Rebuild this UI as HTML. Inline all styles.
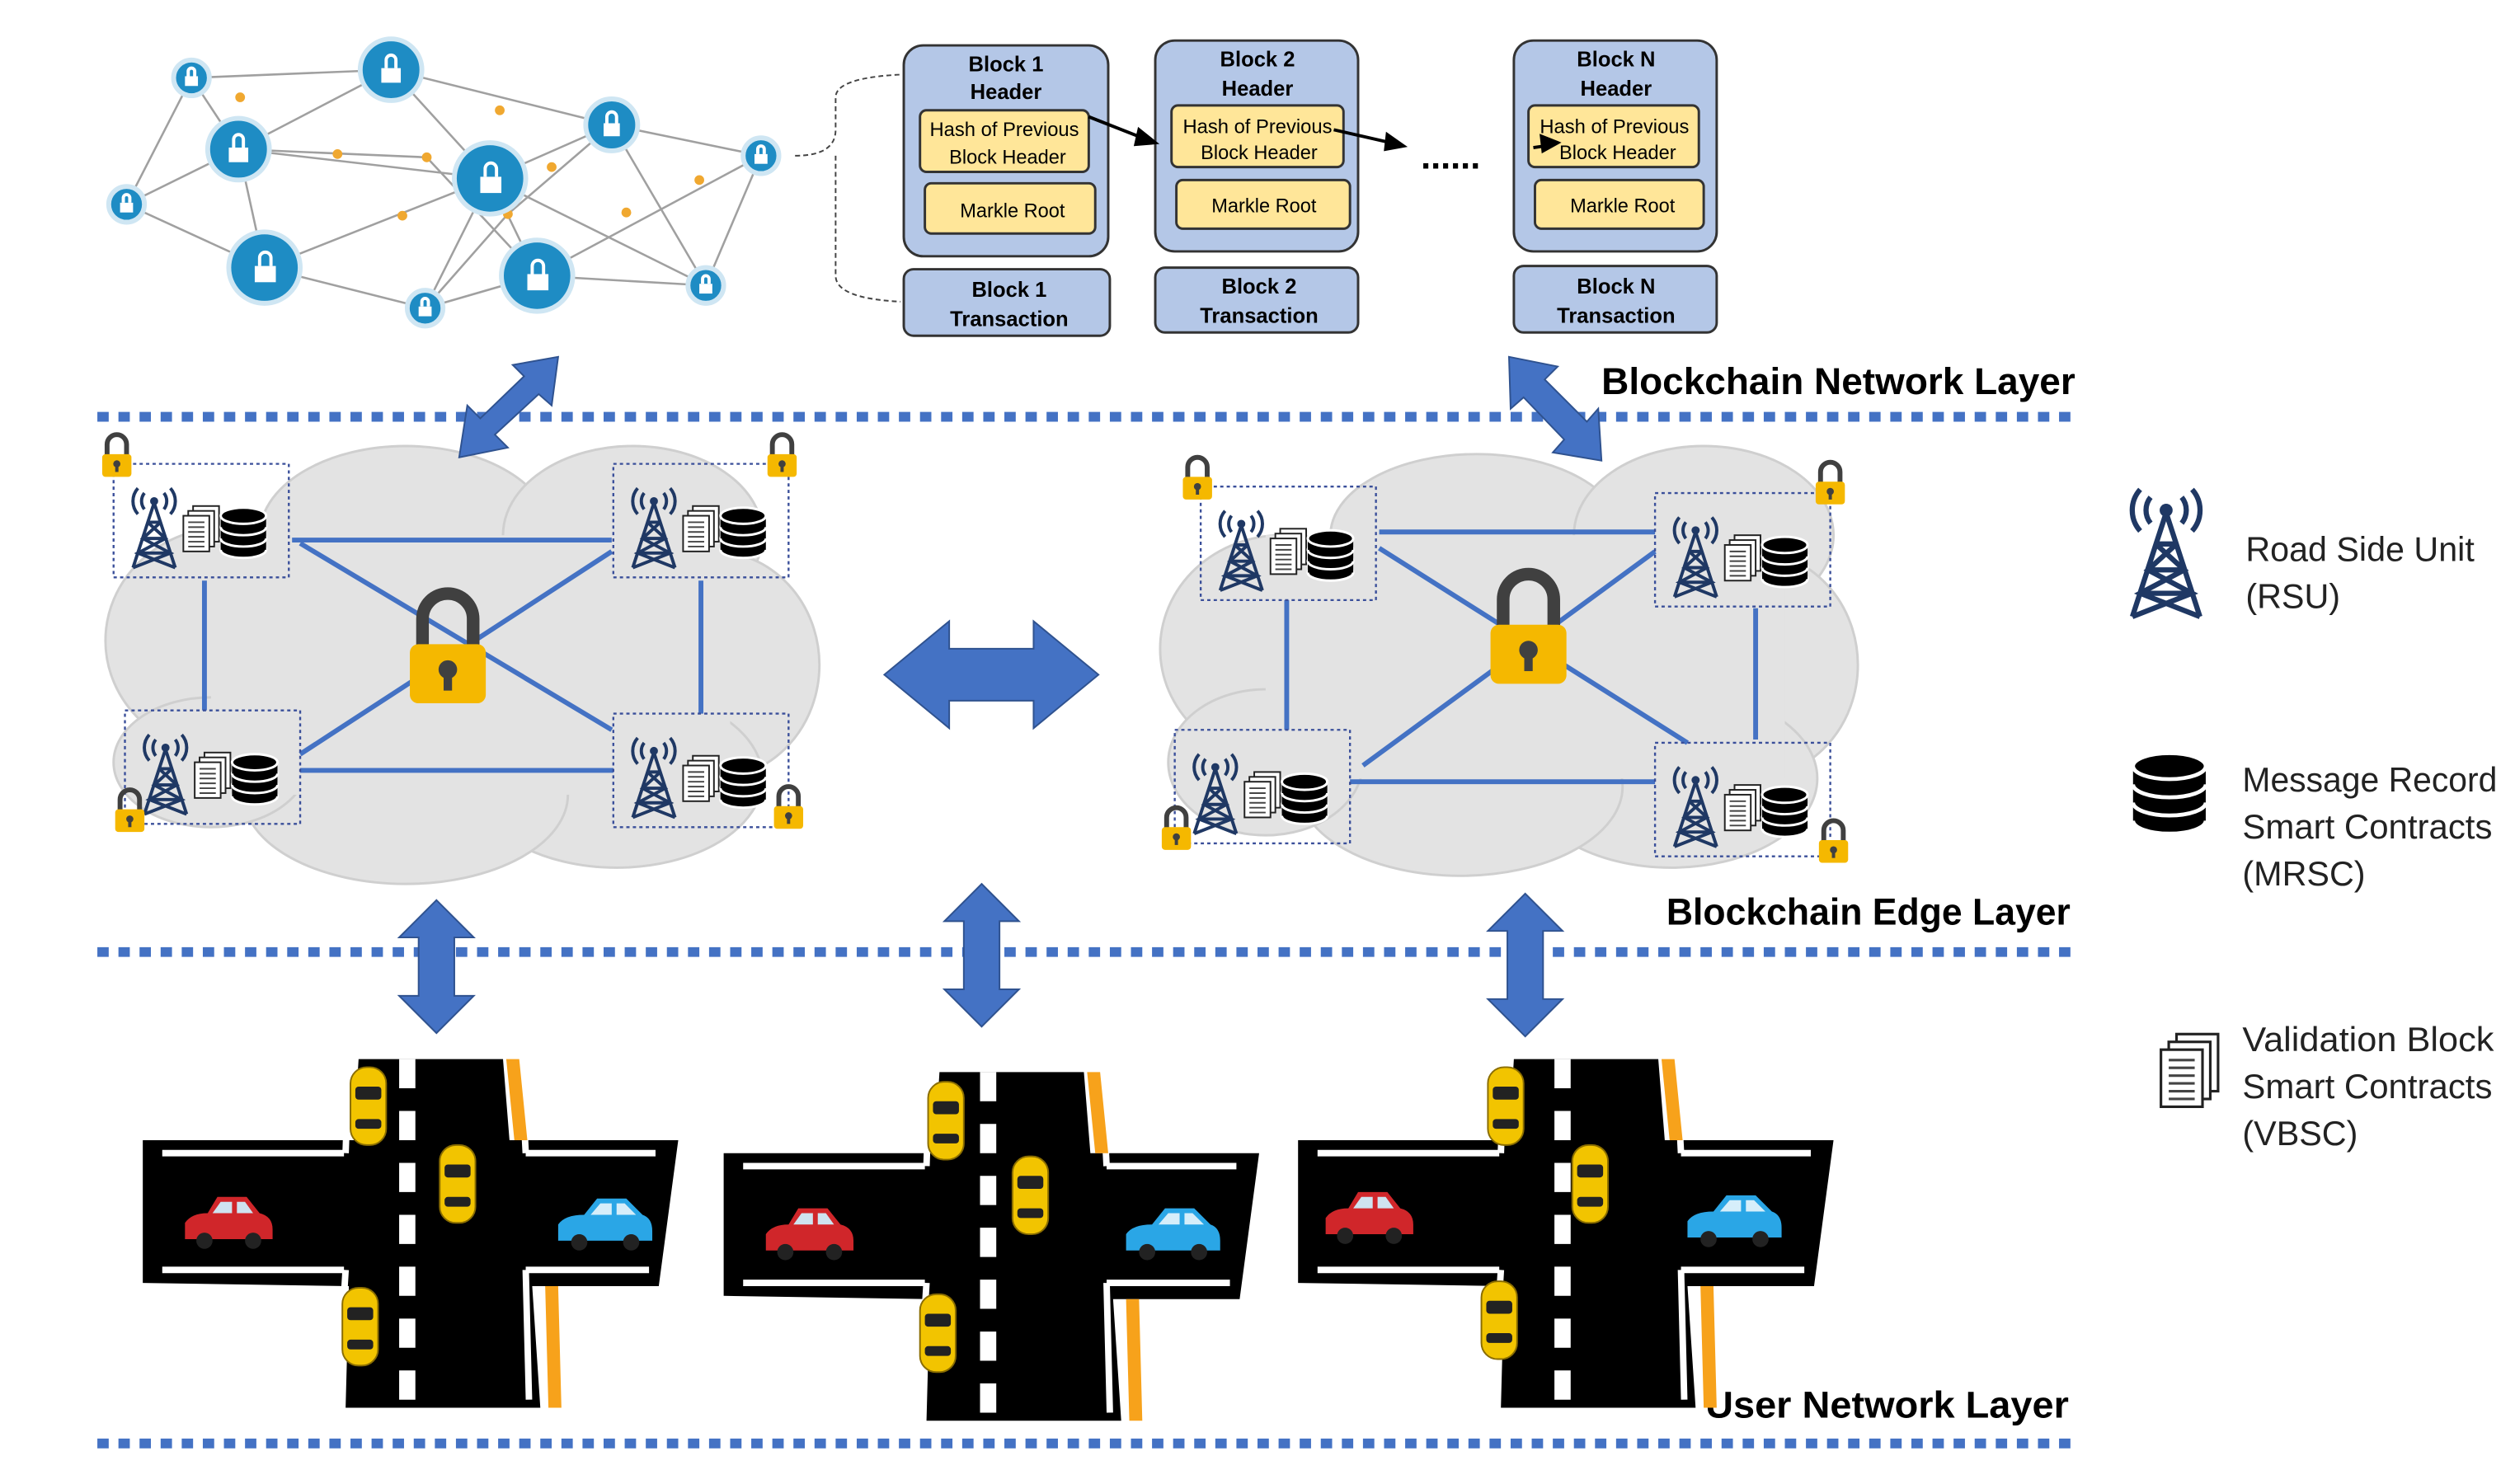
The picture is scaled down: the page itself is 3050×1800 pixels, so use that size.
<!DOCTYPE html>
<html><head><meta charset="utf-8"><style>
html,body{margin:0;padding:0;background:#fff}
svg{display:block}
text{font-family:"Liberation Sans",sans-serif}
</style></head><body>
<svg width="3050" height="1800" viewBox="0 0 1550 915" preserveAspectRatio="none" xmlns="http://www.w3.org/2000/svg">
<defs>
<g id="tower">
 <g stroke="#1f3864" stroke-width="2" fill="none">
  <path d="M0,-18 L-13,22 M0,-18 L13,22 M-4,-6 L4,-6 M-7,4 L7,4 M-10,13 L10,13 M-4,-6 L7,4 L-10,13 L13,22 M4,-6 L-7,4 L10,13 L-13,22"/>
  <path d="M-6,-24 a8,8 0 0,0 0,10 M6,-24 a8,8 0 0,1 0,10 M-10,-27 a12,12 0 0,0 0,16 M10,-27 a12,12 0 0,1 0,16"/>
 </g>
 <circle cx="0" cy="-19" r="2.5" fill="#1f3864"/>
</g>
<g id="docs" stroke="#222" stroke-width="1" fill="#fff">
 <rect x="4" y="-14" width="16" height="22"/><rect x="1" y="-11" width="16" height="22"/><rect x="-2" y="-8" width="16" height="22"/>
 <path d="M1,-4h10M1,-1h10M1,2h10M1,5h10M1,8h10M1,11h10" stroke="#444"/>
</g>
<g id="db" fill="#000" stroke="#fff" stroke-width="1.5">
 <ellipse cx="0" cy="10" rx="14" ry="5"/><rect x="-14" y="4" width="28" height="6" stroke="none"/>
 <ellipse cx="0" cy="3" rx="14" ry="5"/><rect x="-14" y="-4" width="28" height="7" stroke="none"/>
 <ellipse cx="0" cy="-4" rx="14" ry="5"/><rect x="-14" y="-11" width="28" height="7" stroke="none"/>
 <ellipse cx="0" cy="-11" rx="14" ry="5"/>
</g>
<g id="lock">
 <path d="M-6,-2 v-7 a6,6 0 0,1 12,0 v7" fill="none" stroke="#404040" stroke-width="3"/>
 <rect x="-9" y="-3" width="18" height="14" rx="2" fill="#f5b800"/>
 <circle cx="0" cy="3" r="2.2" fill="#404040"/><rect x="-1" y="3" width="2" height="5" fill="#404040"/>
</g>
<g id="car-y">
 <rect x="-11" y="-24" width="22" height="48" rx="10" fill="#f2c400" stroke="#8a6d00" stroke-width="1"/>
 <rect x="-8" y="-12" width="16" height="8" rx="2" fill="#222"/>
 <rect x="-8" y="8" width="16" height="6" rx="2" fill="#222"/>
</g>
<g id="car-r">
 <path d="M-26,8 L-26,-2 Q-22,-8 -12,-8 L-6,-18 L12,-18 L20,-8 Q28,-6 28,2 L28,8 Z" fill="#d0262a"/>
 <path d="M-4,-15 L3,-15 L3,-8 L-9,-8 Z M6,-15 L11,-15 L16,-8 L6,-8 Z" fill="#cfe3f0"/>
 <circle cx="-14" cy="9" r="5" fill="#222"/><circle cx="16" cy="9" r="5" fill="#222"/>
</g>
<g id="car-b">
 <path d="M-28,8 L-28,-2 Q-24,-8 -12,-8 L-4,-18 L14,-18 L24,-8 Q30,-6 30,2 L30,8 Z" fill="#2aa6e6"/>
 <path d="M-2,-15 L5,-15 L5,-8 L-8,-8 Z M8,-15 L13,-15 L20,-8 L8,-8 Z" fill="#d6eefa"/>
 <circle cx="-15" cy="9" r="5" fill="#222"/><circle cx="17" cy="9" r="5" fill="#222"/>
</g>
<g id="rsu">
 <rect x="0" y="0" width="108" height="70" fill="none" stroke="#3a4f9a" stroke-width="1.2" stroke-dasharray="2,2"/>
 <use href="#tower" x="25" y="42"/>
 <use href="#docs" x="45" y="40"/>
 <use href="#db" x="80" y="43"/>
</g>
<g id="road">
 <path d="M0,50 L130,50 L133,0 L222,0 L226,50 L330,50 L318,140 L240,140 L245,215 L125,215 L127,140 L0,138 Z" fill="#000"/>
 <path d="M12,58 L124,58 M12,130 L124,130 M236,58 L316,58 M236,130 L312,130 M125,58 L127,0 M125,130 L120,210 M236,58 L233,0 M236,130 L238,210" stroke="#fff" stroke-width="4" fill="none"/>
 <path d="M163,0 L163,215" stroke="#fff" stroke-width="10" stroke-dasharray="18,14"/>
 <path d="M224,0 L232,0 L237,50 L229,50 Z M248,140 L256,140 L258,215 L250,215 Z" fill="#f7a21b"/>
</g>
</defs>

<!-- network graph -->
<g stroke="#a0a0a0" stroke-width="1.3" fill="none">
 <path d="M118,48 L241,43 L147,92 L118,48 L78,126 L147,92 L163,165 L78,126 M241,43 L302,110 L377,77 L469,96 L435,176 L331,170 L302,110 L163,165 L262,190 L331,170 M147,92 L302,110 M241,43 L377,77 M377,77 L435,176 M469,96 L331,170 M302,110 L435,176 M262,190 L302,110 M147,92 L263,97 L331,170 M377,77 L313,132 L262,190"/>
</g>
<g fill="#f0a830">
 <circle cx="148" cy="60" r="3"/><circle cx="208" cy="95" r="3"/><circle cx="263" cy="97" r="3"/><circle cx="308" cy="68" r="3"/><circle cx="340" cy="103" r="3"/><circle cx="386" cy="131" r="3"/><circle cx="431" cy="111" r="3"/><circle cx="313" cy="132" r="3"/><circle cx="248" cy="133" r="3"/>
</g>
<g fill="#1e8cc4" stroke="#cfe6f3" stroke-width="3">
 <circle cx="118" cy="48" r="11"/><circle cx="241" cy="43" r="19"/><circle cx="147" cy="92" r="19"/><circle cx="78" cy="126" r="11"/><circle cx="163" cy="165" r="22"/><circle cx="262" cy="190" r="11"/><circle cx="302" cy="110" r="22"/><circle cx="331" cy="170" r="22"/><circle cx="377" cy="77" r="16"/><circle cx="435" cy="176" r="11"/><circle cx="469" cy="96" r="11"/>
</g>
<g fill="#fff">
 <rect x="114" y="47" width="8" height="6"/><rect x="235" y="42" width="12" height="9"/><rect x="141" y="91" width="12" height="9"/><rect x="74" y="125" width="8" height="6"/><rect x="157" y="164" width="13" height="10"/><rect x="258" y="189" width="8" height="6"/><rect x="296" y="109" width="13" height="10"/><rect x="325" y="169" width="13" height="10"/><rect x="372" y="76" width="10" height="8"/><rect x="431" y="175" width="8" height="6"/><rect x="465" y="95" width="8" height="6"/>
</g>
<g fill="none" stroke="#fff" stroke-width="2">
 <path d="M116,47v-3a2,2 0 0,1 4,0v3M238,42v-5a3,3 0 0,1 6,0v5M144,91v-5a3,3 0 0,1 6,0v5M76,125v-3a2,2 0 0,1 4,0v3M160,164v-5a3.5,3.5 0 0,1 7,0v5M260,189v-3a2,2 0 0,1 4,0v3M299,109v-5a3.5,3.5 0 0,1 7,0v5M328,169v-5a3.5,3.5 0 0,1 7,0v5M374,76v-4a3,3 0 0,1 6,0v4M433,175v-3a2,2 0 0,1 4,0v3M467,95v-3a2,2 0 0,1 4,0v3"/>
</g>
<path d="M490,96 Q515,96 515,80 L515,60 Q515,48 555,46 M515,96 L515,170 Q515,184 555,186" fill="none" stroke="#444" stroke-dasharray="3,2"/>

<!-- blocks -->
<g stroke="#333" stroke-width="1.5">
 <rect x="557" y="28" width="126" height="130" rx="12" fill="#b4c7e7"/>
 <rect x="567" y="68" width="104" height="38" rx="4" fill="#ffe699"/>
 <rect x="570" y="113" width="105" height="31" rx="4" fill="#ffe699"/>
 <rect x="557" y="166" width="127" height="41" rx="6" fill="#b4c7e7"/>
 <rect x="712" y="25" width="125" height="130" rx="12" fill="#b4c7e7"/>
 <rect x="722" y="65" width="106" height="38" rx="4" fill="#ffe699"/>
 <rect x="725" y="111" width="107" height="30" rx="4" fill="#ffe699"/>
 <rect x="712" y="165" width="125" height="40" rx="6" fill="#b4c7e7"/>
 <rect x="933" y="25" width="125" height="130" rx="12" fill="#b4c7e7"/>
 <rect x="942" y="65" width="105" height="38" rx="4" fill="#ffe699"/>
 <rect x="946" y="111" width="104" height="30" rx="4" fill="#ffe699"/>
 <rect x="933" y="164" width="125" height="41" rx="6" fill="#b4c7e7"/>
</g>
<g font-size="13" font-weight="bold" text-anchor="middle" fill="#000">
 <text x="620" y="44">Block 1</text><text x="620" y="61">Header</text>
 <text x="622" y="183">Block 1</text><text x="622" y="201">Transaction</text>
 <text x="775" y="41">Block 2</text><text x="775" y="59">Header</text>
 <text x="776" y="181">Block 2</text><text x="776" y="199">Transaction</text>
 <text x="996" y="41">Block N</text><text x="996" y="59">Header</text>
 <text x="996" y="181">Block N</text><text x="996" y="199">Transaction</text>
</g>
<g font-size="12" text-anchor="middle" fill="#000">
 <text x="619" y="84" textLength="92" lengthAdjust="spacingAndGlyphs">Hash of Previous</text><text x="621" y="101">Block Header</text>
 <text x="624" y="134">Markle Root</text>
 <text x="775" y="82" textLength="92" lengthAdjust="spacingAndGlyphs">Hash of Previous</text><text x="776" y="98">Block Header</text>
 <text x="779" y="131">Markle Root</text>
 <text x="995" y="82" textLength="92" lengthAdjust="spacingAndGlyphs">Hash of Previous</text><text x="997" y="98">Block Header</text>
 <text x="1000" y="131">Markle Root</text>
</g>
<g stroke="#000" stroke-width="2" fill="#000">
 <path d="M671,72 L704,85"/><path d="M712,88 L702,80 L700,89 Z"/>
 <path d="M822,80 L857,88"/><path d="M865,90 L855,83 L854,92 Z"/>
 <path d="M945,91 L952,90"/><path d="M960,88 L950,84 L951,93 Z"/>
</g>
<text x="894" y="104" font-size="22" font-weight="bold" text-anchor="middle">......</text>

<text x="987" y="243" font-size="23" font-weight="bold" textLength="292" lengthAdjust="spacingAndGlyphs">Blockchain Network Layer</text>
<text x="1027" y="570" font-size="23" font-weight="bold" textLength="249" lengthAdjust="spacingAndGlyphs">Blockchain Edge Layer</text>
<text x="1051" y="874" font-size="23" font-weight="bold" textLength="224" lengthAdjust="spacingAndGlyphs">User Network Layer</text>

<g stroke="#4472c4" stroke-width="6" stroke-dasharray="7,6">
 <path d="M60,257 H1282"/><path d="M60,587 H1282"/><path d="M60,890 H1282"/>
</g>

<!-- clouds -->
<g fill="#e3e3e3" stroke="#cfcfcf" stroke-width="1.5">
 <ellipse cx="140" cy="395" rx="75" ry="70"/><ellipse cx="250" cy="330" rx="90" ry="55"/><ellipse cx="390" cy="330" rx="80" ry="55"/><ellipse cx="440" cy="410" rx="65" ry="70"/><ellipse cx="380" cy="480" rx="90" ry="55"/><ellipse cx="250" cy="490" rx="100" ry="55"/><ellipse cx="130" cy="470" rx="60" ry="40"/>
 <ellipse cx="790" cy="400" rx="75" ry="70"/><ellipse cx="910" cy="330" rx="90" ry="50"/><ellipse cx="1050" cy="330" rx="80" ry="55"/><ellipse cx="1080" cy="410" rx="65" ry="70"/><ellipse cx="1030" cy="480" rx="90" ry="55"/><ellipse cx="900" cy="485" rx="100" ry="55"/><ellipse cx="780" cy="470" rx="60" ry="45"/>
</g>
<g fill="#e3e3e3">
 <rect x="130" y="330" width="320" height="160"/><rect x="780" y="330" width="320" height="150"/>
</g>
<g stroke="#4472c4" stroke-width="3" fill="none">
 <path d="M180,333 H377 M126,358 V438 M432,358 V440 M185,475 H378 M185,335 L377,450 M377,340 L185,465"/>
 <path d="M850,328 H1020 M793,370 V450 M1082,375 V456 M832,482 H1020 M850,338 L1040,458 M1020,340 L840,472"/>
</g>
<use href="#rsu" x="70" y="286"/><use href="#rsu" x="378" y="286"/><use href="#rsu" x="77" y="438"/><use href="#rsu" x="378" y="440"/>
<use href="#rsu" x="740" y="300"/><use href="#rsu" x="1020" y="304"/><use href="#rsu" x="724" y="450"/><use href="#rsu" x="1020" y="458"/>
<use href="#lock" x="72" y="283"/><use href="#lock" x="482" y="283"/><use href="#lock" x="80" y="502"/><use href="#lock" x="486" y="500"/>
<use href="#lock" x="738" y="297"/><use href="#lock" x="1128" y="300"/><use href="#lock" x="725" y="513"/><use href="#lock" x="1130" y="521"/>
<use href="#lock" transform="translate(276,405) scale(2.6)"/><use href="#lock" transform="translate(942,393) scale(2.6)"/>

<!-- arrows -->
<g fill="#4472c4" stroke="#2f528f" stroke-width="1">
 <path d="M545,416 L585,383 L585,400 L637,400 L637,383 L677,416 L637,449 L637,432 L585,432 L585,449 Z"/>
 <path d="M269,555 L292,578 L280,578 L280,614 L292,614 L269,637 L246,614 L258,614 L258,578 L246,578 Z"/>
 <path d="M605,545 L628,568 L616,568 L616,610 L628,610 L605,633 L582,610 L594,610 L594,568 L582,568 Z"/>
 <path d="M940,551 L963,574 L951,574 L951,616 L963,616 L940,639 L917,616 L929,616 L929,574 L917,574 Z"/>
 <path d="M283,282 L288,250 L296,258 L323,232 L316,225 L344,220 L340,250 L332,243 L305,268 L313,276 Z"/>
 <path d="M930,220 L960,226 L952,234 L978,260 L985,252 L987,284 L957,279 L964,271 L939,245 L931,252 Z"/>
</g>

<!-- roads -->
<use href="#road" x="88" y="653"/><use href="#road" x="446" y="661"/><use href="#road" x="800" y="653"/>
<use href="#car-y" x="227" y="682"/><use href="#car-y" x="282" y="730"/><use href="#car-y" x="222" y="818"/>
<use href="#car-r" x="140" y="756"/><use href="#car-b" x="372" y="757"/>
<use href="#car-y" x="583" y="691"/><use href="#car-y" x="635" y="737"/><use href="#car-y" x="578" y="822"/>
<use href="#car-r" x="498" y="763"/><use href="#car-b" x="722" y="763"/>
<use href="#car-y" x="928" y="682"/><use href="#car-y" x="980" y="730"/><use href="#car-y" x="924" y="814"/>
<use href="#car-r" x="843" y="753"/><use href="#car-b" x="1068" y="755"/>

<!-- legend -->
<use href="#tower" transform="translate(1335,345) scale(1.6)"/>
<use href="#db" transform="translate(1337,490) scale(1.6)"/>
<use href="#docs" transform="translate(1335,660) scale(1.6)"/>
<g font-size="21" fill="#222" lengthAdjust="spacingAndGlyphs">
 <text x="1384" y="346" textLength="141" lengthAdjust="spacingAndGlyphs">Road Side Unit</text><text x="1384" y="375">(RSU)</text>
 <text x="1382" y="488" textLength="157" lengthAdjust="spacingAndGlyphs">Message Record</text><text x="1382" y="517" textLength="154" lengthAdjust="spacingAndGlyphs">Smart Contracts</text><text x="1382" y="546">(MRSC)</text>
 <text x="1382" y="648" textLength="155" lengthAdjust="spacingAndGlyphs">Validation Block</text><text x="1382" y="677" textLength="154" lengthAdjust="spacingAndGlyphs">Smart Contracts</text><text x="1382" y="706">(VBSC)</text>
</g>
</svg>
</body></html>
